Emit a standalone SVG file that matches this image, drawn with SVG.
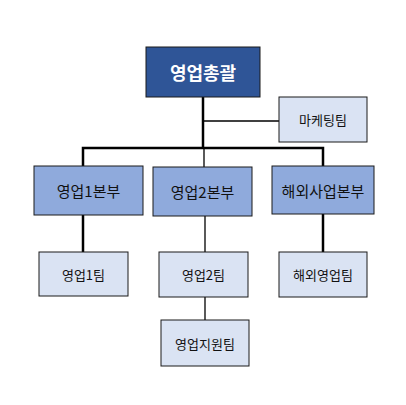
<svg xmlns="http://www.w3.org/2000/svg" width="406" height="405" viewBox="0 0 406 405">
<style>
.b{stroke:#1a1a1a;stroke-width:1}
.top{fill:#2F5597}
.mid{fill:#8FAADC}
.low{fill:#DAE3F3}
text{font-family:"Noto Sans CJK KR","Malgun Gothic",sans-serif;text-anchor:middle;dominant-baseline:central;fill:#111}
.t1{font-size:18px;font-weight:bold;fill:#fff}
.t2{font-size:15px}
.t3{font-size:13px}
.thick{stroke:#000;stroke-width:2.5;fill:none}
.thin{stroke:#000;stroke-width:1.3;fill:none}
</style>
<rect width="406" height="405" fill="#fff"/>
<g id="connectors">
<line class="thick" x1="203" y1="97" x2="203" y2="149"/>
<line class="thin" x1="203" y1="121" x2="280" y2="121"/>
<polyline class="thick" points="83,166 83,148 323,148 323,166"/>
<line class="thin" x1="204" y1="148" x2="204" y2="167"/>
<line class="thick" x1="83" y1="215" x2="83" y2="252"/>
<line class="thin" x1="205" y1="216" x2="205" y2="252"/>
<line class="thick" x1="323" y1="214" x2="323" y2="252"/>
<line class="thin" x1="205" y1="297" x2="205" y2="320"/>
</g>
<g id="n-total"><rect class="b top" x="146" y="47" width="114" height="50"/><text class="t1" x="203" y="72">영업총괄</text></g>
<g id="n-marketing"><rect class="b low" x="279" y="97" width="88" height="45"/><text class="t3" x="323" y="119.5">마케팅팀</text></g>
<g id="n-div1"><rect class="b mid" x="34" y="166" width="109" height="49"/><text class="t2" x="88.5" y="190.5">영업1본부</text></g>
<g id="n-div2"><rect class="b mid" x="153" y="167" width="99" height="49"/><text class="t2" x="202.5" y="191.5">영업2본부</text></g>
<g id="n-div3"><rect class="b mid" x="272" y="166" width="102" height="48"/><text class="t2" x="323" y="190">해외사업본부</text></g>
<g id="n-team1"><rect class="b low" x="39" y="252" width="89" height="44"/><text class="t3" x="83.5" y="274">영업1팀</text></g>
<g id="n-team2"><rect class="b low" x="159" y="252" width="89" height="45"/><text class="t3" x="203.5" y="274.5">영업2팀</text></g>
<g id="n-team3"><rect class="b low" x="279" y="252" width="88" height="45"/><text class="t3" x="323" y="274.5">해외영업팀</text></g>
<g id="n-support"><rect class="b low" x="161" y="320" width="88" height="46"/><text class="t3" x="205" y="343">영업지원팀</text></g>
</svg>
